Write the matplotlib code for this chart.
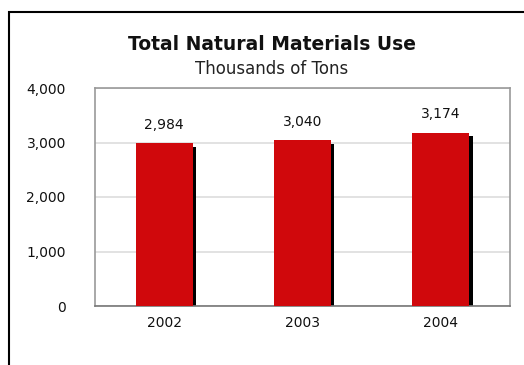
import matplotlib
matplotlib.use('Agg')
import matplotlib.pyplot as plt
from matplotlib.patches import Rectangle

years = ['2002', '2003', '2004']
use = [2984, 3040, 3174]
y_ticks = [0, 1000, 2000, 3000, 4000]

plt.rcParams['font.family'] = ['DejaVu Sans']

W, H = 524, 365
fig = plt.figure(figsize=(W / 100, H / 100), dpi=100)

# outer black frame, runs off the right and bottom edges
fig.patches.append(Rectangle((9 / W, -0.1), 1.2, (H - 12) / H + 0.1,
                             transform=fig.transFigure, fill=False,
                             edgecolor='black', linewidth=1.5))

ax = fig.add_axes([95 / W, 1 - 306 / H, 415 / W, 218 / H])
x = range(len(years))
bw = 0.41

# black drop shadow behind each bar
ax.bar([i + 0.025 for i in x], [v - 60 for v in use], width=bw,
       color='black', zorder=2)
ax.bar(x, use, width=bw, color='#d0080c', zorder=3)

for i, v in zip(x, use):
    ax.annotate(f'{v:,}', (i, v), xytext=(0, 13.5), textcoords='offset points',
                ha='center', va='center', fontsize=10, color='#111111')

ax.set_xlim(-0.5, 2.5)
ax.set_ylim(0, 4000)
ax.set_yticks(y_ticks)
ax.set_yticklabels([f'{t:,}' for t in y_ticks])
ax.set_xticks(list(x))
ax.set_xticklabels(years)
ax.tick_params(axis='both', length=0, labelsize=10, colors='#111111')
ax.tick_params(axis='y', pad=21)
ax.tick_params(axis='x', pad=7)
ax.yaxis.grid(True, color='#dddddd', linewidth=1.2, zorder=0)
ax.set_axisbelow(True)
for side in ['left', 'right', 'top']:
    ax.spines[side].set_color('#999999')
ax.spines['bottom'].set_color('#777777')
for s in ax.spines.values():
    s.set_linewidth(1.2)

fig.text(271.5 / W, 1 - 45 / H, 'Total Natural Materials Use', ha='center',
         va='center', fontsize=13.5, fontweight='bold', color='#111111')
fig.text(272 / W, 1 - 69 / H, 'Thousands of Tons', ha='center',
         va='center', fontsize=12, color='#222222')

fig.savefig('out.png', dpi=100)
